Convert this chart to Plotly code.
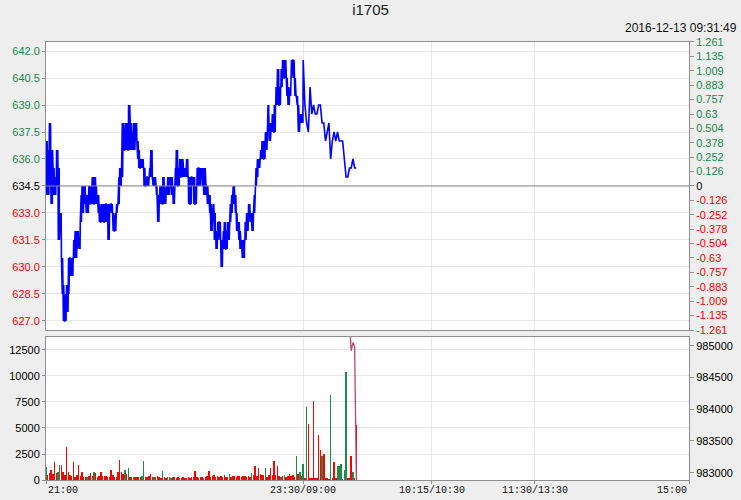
import plotly.graph_objects as go

# ---------------- data ----------------
# night session (21:00-23:30), per-minute high / low of the tick line
night_hi = [637.0, 636.5, 638.0, 636.5, 635.5, 635.0, 636.5, 635.5, 633.0, 630.5,
            629.0, 628.5, 629.0, 630.5, 630.5, 630.5, 631.5, 632.0, 632.0, 631.5,
            634.0, 634.5, 634.5, 634.0, 634.0, 634.5, 634.5, 635.0, 635.0, 634.5,
            634.0, 633.5, 633.5, 633.5, 633.5, 633.5, 633.5, 633.5, 633.5, 633.0,
            633.0, 633.5, 635.0, 635.5, 638.0, 638.0, 638.0, 638.0, 639.0, 638.0,
            637.5, 638.0, 638.0, 637.0, 636.5, 636.0, 636.0, 635.5, 635.0, 635.0,
            635.5, 636.5, 635.0, 635.0, 634.5, 634.0, 634.5, 634.5, 635.0, 634.5,
            634.5, 635.0, 635.0, 635.0, 634.5, 635.5, 636.5, 635.5, 636.0, 636.0,
            635.5, 635.5, 636.0, 635.0, 635.0, 635.0, 635.0, 634.5, 635.5, 635.5,
            635.5, 635.5, 635.5, 634.5, 634.5, 634.0, 633.5, 633.5, 633.0, 632.0,
            632.5, 632.5, 631.5, 632.0, 632.5, 632.0, 632.5, 633.5, 634.0, 634.5,
            634.0, 633.0, 632.5, 632.0, 631.5, 631.5, 632.5, 633.0, 633.5, 633.0,
            633.0, 634.0, 635.5, 636.0, 636.0, 636.5, 637.0, 637.0, 637.5, 639.0,
            638.0, 638.0, 638.5, 639.0, 640.0, 641.0, 640.0, 641.0, 641.5, 641.5,
            640.5, 640.0, 640.0, 641.5, 641.5, 640.5, 639.5, 639.0, 638.5, 638.5]
night_lo = [634.0, 634.0, 634.5, 633.5, 634.0, 634.0, 634.5, 631.5, 632.0, 628.5,
            627.0, 627.0, 627.5, 628.5, 629.5, 629.5, 630.5, 630.5, 631.0, 631.0,
            632.5, 633.0, 633.5, 633.0, 633.0, 633.5, 633.5, 633.5, 633.5, 633.5,
            633.0, 632.5, 632.5, 632.5, 632.5, 632.5, 631.5, 633.0, 633.0, 632.0,
            632.0, 633.0, 633.5, 634.5, 635.0, 636.5, 636.5, 636.5, 636.5, 636.5,
            636.5, 636.5, 637.0, 636.0, 635.5, 635.5, 635.5, 634.5, 634.5, 634.5,
            635.0, 635.0, 634.5, 634.5, 634.0, 632.5, 633.5, 633.5, 633.5, 633.5,
            634.0, 634.0, 634.5, 634.0, 633.5, 634.5, 634.5, 634.5, 635.0, 635.0,
            635.0, 635.0, 635.0, 633.5, 633.5, 634.5, 633.5, 633.5, 634.5, 634.5,
            635.0, 634.5, 634.0, 634.0, 633.5, 633.0, 632.0, 632.5, 631.5, 631.0,
            631.5, 631.5, 630.0, 631.0, 631.0, 631.0, 631.5, 632.5, 633.0, 633.5,
            633.0, 632.0, 631.5, 631.0, 630.5, 630.5, 631.5, 632.0, 632.5, 632.5,
            632.0, 633.0, 634.5, 635.0, 635.5, 636.0, 636.0, 636.0, 636.5, 637.5,
            637.0, 637.5, 637.5, 637.5, 639.0, 639.0, 639.0, 640.0, 640.5, 640.5,
            639.5, 639.0, 639.5, 640.5, 640.5, 639.5, 639.0, 637.5, 638.0, 638.0]
# day session (from 09:00), per-minute price
day_close = [641.5, 639.0, 638.0, 637.5, 640.0, 638.5, 639.0, 638.5, 638.5, 639.0,
             639.0, 638.0, 638.0, 637.0, 637.5, 638.0, 636.0, 637.0, 637.5, 637.0,
             637.5, 637.0, 637.0, 637.0, 636.0, 635.0, 635.0, 635.5, 635.5, 636.0,
             635.5, 635.5]

# per-minute volume (night 150 + day 32) and bar direction (r = red, g = green)
volume = [1250, 470, 700, 950, 560, 1730, 700, 800, 1400, 1450,
          800, 450, 3150, 800, 450, 350, 1730, 300, 450, 1400,
          350, 800, 300, 250, 250, 350, 700, 350, 800, 700,
          300, 350, 800, 350, 350, 350, 250, 300, 950, 450,
          300, 250, 800, 1900, 800, 600, 1000, 600, 1150, 300,
          250, 300, 250, 300, 300, 250, 350, 1800, 300, 250,
          400, 600, 300, 250, 300, 400, 250, 200, 850, 300,
          200, 250, 300, 200, 250, 300, 200, 250, 150, 200,
          250, 200, 150, 300, 200, 250, 300, 850, 300, 200,
          250, 300, 200, 250, 400, 850, 300, 400, 450, 300,
          400, 250, 350, 300, 450, 300, 250, 600, 300, 400,
          350, 250, 350, 400, 300, 350, 400, 300, 350, 250,
          700, 450, 1300, 400, 1150, 600, 500, 450, 1150, 300,
          500, 1200, 450, 1800, 500, 1300, 400, 300, 400, 450,
          300, 400, 550, 400, 450, 300, 2300, 600, 800, 400,
          1500, 150, 7000, 5400, 150, 150, 7600, 150, 150, 4300,
          2900, 2300, 2500, 150, 150, 100, 8200, 150, 1700, 150,
          1300, 1300, 1500, 100, 950, 10400, 150, 150, 2300, 750,
          150, 5300]
vol_dir = ("grrrrrrggr" "rrrrrrrrrr" "rrrrgrrrgr" "rrrrrrrrrr" "rrrrrrgrgr"
           "rgrrrrggrr" "rrrgrrrrgr" "rgrgrrrrgr" "rrrrrrrrrr" "rrgrrrrrrr"
           "rrrrrrrgrr" "rrrrrrrrrr" "grrrrrrrgr" "rrrrrrrgrg" "rrrrrrgrgr"
           "grgrrrrrrr" "rgrrrrgrrr" "gggrggrrrg" "rr")

# open interest (right axis of the volume panel)
oi_minute = [177, 178, 179, 180, 181]
oi_value = [985400, 984920, 985050, 984990, 982900]

price_ticks = [627.0, 628.5, 630.0, 631.5, 633.0, 634.5, 636.0, 637.5, 639.0, 640.5, 642.0]
pct_labels = ["-1.261", "-1.135", "-1.009", "-0.883", "-0.757", "-0.63", "-0.504",
              "-0.378", "-0.252", "-0.126", "0", "0.126", "0.252", "0.378", "0.504",
              "0.63", "0.757", "0.883", "1.009", "1.135", "1.261"]
time_labels = ["21:00", "23:30/09:00", "10:15/10:30", "11:30/13:30", "15:00"]
time_pos = [0, 150, 225, 285, 375]
vol_ticks = [0, 2500, 5000, 7500, 10000, 12500]
oi_ticks = [983000, 983500, 984000, 984500, 985000]

pre_close = 634.5
title = "i1705"
stamp = "2016-12-13 09:31:49"

GREEN = "#20894c"
RED = "#ff0000"
GRID = "#e8e8e8"
BORDER = "#8e8e8e"

# ---------------- build price line ----------------
STEPS = 6
px, py = [], []
prev = None
for i, (h, l) in enumerate(zip(night_hi, night_lo)):
    order = (l, h) if (prev is not None and abs(prev - l) < abs(prev - h)) else (h, l)
    for k in range(STEPS):
        px.append(i + k / STEPS)
        py.append(order[k % 2])
    prev = py[-1]
n_night = len(night_hi)
for d, c in enumerate(day_close):
    px.append(n_night + d)
    py.append(c)

def colored(v, text):
    if v > pre_close + 1e-9:
        col = GREEN
    elif v < pre_close - 1e-9:
        col = RED
    else:
        col = "#000000"
    return f'<span style="color:{col}">{text}</span>'

left_text = [colored(v, f"{v:.1f}") for v in price_ticks]
right_vals = [pre_close + pre_close * float(s) / 100 for s in pct_labels]
right_text = [colored(v, s) for v, s in zip(right_vals, pct_labels)]

fig = go.Figure()
fig.add_trace(go.Scatter(x=px, y=py, mode="lines", xaxis="x", yaxis="y",
                         line=dict(color="#0000ff", width=1.6), hoverinfo="skip"))
fig.add_trace(go.Scatter(x=[0], y=[pre_close], mode="markers", xaxis="x", yaxis="y2",
                         marker=dict(opacity=0), hoverinfo="skip"))
fig.add_trace(go.Bar(x=list(range(len(volume))), y=volume, xaxis="x2", yaxis="y3",
                     width=0.85,
                     marker=dict(color=[GREEN if c == "g" else RED for c in vol_dir],
                                 line=dict(width=0)),
                     hoverinfo="skip"))
fig.add_trace(go.Scatter(x=oi_minute, y=oi_value, mode="lines", xaxis="x2", yaxis="y4",
                         line=dict(color="#b8466f", width=1.3), hoverinfo="skip"))

tickfont = dict(family="Liberation Sans, Arial, sans-serif", size=11, color="#000000")
fig.update_layout(
    width=741, height=500,
    margin=dict(l=46, r=52, t=42, b=20, autoexpand=False),
    paper_bgcolor="#eeeeee", plot_bgcolor="#ffffff",
    showlegend=False, hovermode=False, bargap=0,
    font=dict(family="Liberation Sans, Arial, sans-serif", size=11, color="#000"),
    xaxis=dict(domain=[0, 1], anchor="y", range=[0, 375], tickvals=time_pos[1:4],
               showticklabels=False, showgrid=True, gridcolor=GRID, zeroline=False,
               showline=True, linecolor=BORDER, mirror=True, ticks="", automargin=False),
    yaxis=dict(domain=[0.3425, 1], range=[626.5, 642.5], tickvals=price_ticks,
               ticktext=left_text, ticks="outside", ticklen=3, tickcolor=BORDER,
               showgrid=True, gridcolor=GRID, zeroline=False, showline=True,
               linecolor=BORDER, mirror=True, tickfont=tickfont, automargin=False),
    yaxis2=dict(overlaying="y", side="right", anchor="x", range=[626.5, 642.5],
                tickvals=right_vals, ticktext=right_text, ticks="outside", ticklen=4,
                tickcolor=BORDER, showgrid=False, zeroline=False, showline=True,
                linecolor=BORDER, tickfont=tickfont, automargin=False),
    xaxis2=dict(domain=[0, 1], anchor="y3", range=[0, 375], tickvals=time_pos,
                showticklabels=False, showgrid=True, gridcolor=GRID, zeroline=False,
                showline=True, linecolor=BORDER, mirror=True, ticks="outside",
                ticklen=3, tickcolor=BORDER, automargin=False),
    yaxis3=dict(domain=[0, 0.3265], anchor="x2", range=[0, 13750], tickvals=vol_ticks,
                ticktext=[str(v) for v in vol_ticks],
                ticks="outside", ticklen=3, tickcolor=BORDER, showgrid=True,
                gridcolor=GRID, zeroline=False, showline=True, linecolor=BORDER,
                mirror=True, tickfont=tickfont, automargin=False),
    yaxis4=dict(overlaying="y3", side="right", anchor="x2", range=[982885, 985137],
                tickvals=oi_ticks, ticktext=[str(v) for v in oi_ticks],
                ticks="outside", ticklen=4, tickcolor=BORDER,
                showgrid=False, zeroline=False, showline=True, linecolor=BORDER,
                tickfont=tickfont, automargin=False),
    title=dict(text=title, x=0.5, xref="container", xanchor="center",
               y=1 - 10 / 500, yref="container", yanchor="middle", automargin=False,
               font=dict(family="Liberation Sans, Arial, sans-serif", size=15, color="#222")),
)

fig.add_shape(type="line", xref="x domain", x0=0, x1=1, yref="y", y0=pre_close, y1=pre_close,
              line=dict(color="#8a8a8a", width=1.2))

fig.add_annotation(text=stamp, xref="paper", yref="paper", x=1, y=1, xanchor="right",
                   yanchor="middle", xshift=50, yshift=14, showarrow=False,
                   font=dict(family="Liberation Sans, Arial, sans-serif", size=12, color="#111"))

for i, (lab, pos) in enumerate(zip(time_labels, time_pos)):
    anchor = "left" if i == 0 else ("right" if i == len(time_labels) - 1 else "center")
    fig.add_annotation(text=lab, xref="x2", yref="paper", x=pos, y=0, xanchor=anchor,
                       yanchor="middle", yshift=-10, showarrow=False,
                       font=dict(family="Liberation Mono, DejaVu Sans Mono, monospace",
                                 size=10, color="#111"))

fig.write_html("out.html", config={"displayModeBar": False, "staticPlot": True},
               post_script="document.body.style.margin='0';document.body.style.background='#eeeeee';")
